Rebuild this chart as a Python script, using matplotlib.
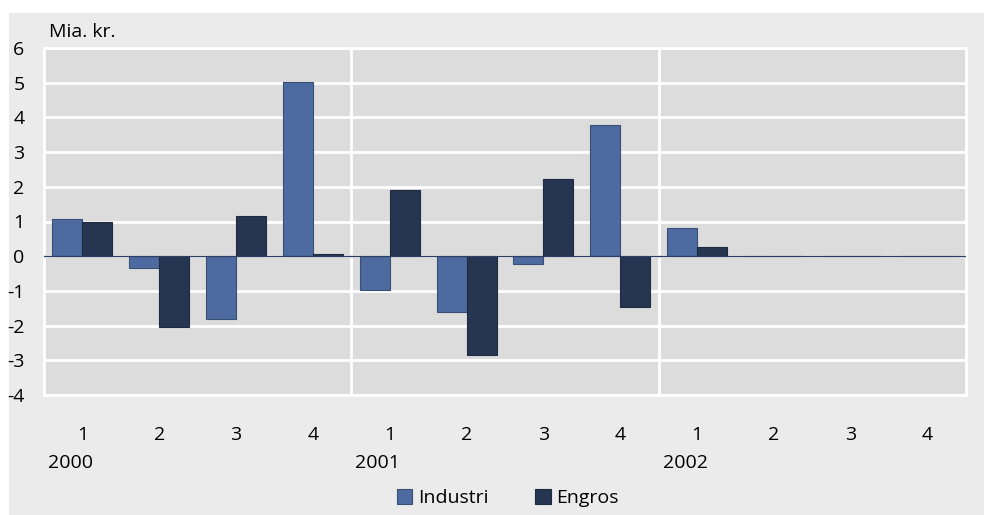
import matplotlib.pyplot as plt
import matplotlib.patches as mpatches
import numpy as np

plt.rcParams['font.family'] = ['Open Sans', 'DejaVu Sans']
plt.rcParams['axes.unicode_minus'] = False

quarters = ['1', '2', '3', '4'] * 3
years = ['2000', '2001', '2002']
industri = [1.07, -0.35, -1.82, 5.02, -0.98, -1.60, -0.22, 3.78, 0.80, 0, 0, 0]
engros = [0.98, -2.05, 1.17, 0.05, 1.90, -2.85, 2.22, -1.45, 0.27, 0, 0, 0]

c_ind = '#4d6ba0'
c_eng = '#263651'

fig = plt.figure(figsize=(9.84, 5.15), dpi=100)
fig.patches.append(mpatches.Rectangle((9 / 984, 0), 1, 1 - 13 / 515,
                                      transform=fig.transFigure,
                                      facecolor='#ebebeb', zorder=-10))
ax = fig.add_axes([44 / 984, 1 - 395 / 515, 922 / 984, 347 / 515])
ax.set_facecolor('#dcdcdc')

x = np.arange(len(quarters))
w = 0.39
ax.bar(x - w / 2, industri, w, color=c_ind, edgecolor='#3a4f75', linewidth=0.8,
       label='Industri', zorder=3)
ax.bar(x + w / 2, engros, w, color=c_eng, edgecolor='#1e2a40', linewidth=0.8,
       label='Engros', zorder=3)

ax.set_xlim(-0.5, len(quarters) - 0.5)
ax.set_ylim(-4, 6)
ax.set_yticks(range(-4, 7))
ax.grid(axis='y', color='white', linewidth=2, zorder=1)
for b in [3.5, 7.5]:
    ax.axvline(b, color='white', linewidth=2, zorder=1)
ax.axhline(0, color='#2d3f63', linewidth=1, zorder=4)

for s in ax.spines.values():
    s.set_color('white')
    s.set_linewidth(2)

ax.set_xticks(x)
ax.set_xticklabels(quarters)
ax.tick_params(length=0, labelsize=14, colors='black')
ax.tick_params(axis='x', pad=22)
ax.tick_params(axis='y', pad=14)

for i, yr in enumerate(years):
    ax.text(i * 4 - 0.45, -0.197, yr, transform=ax.get_xaxis_transform(),
            fontsize=14, ha='left', va='center')

ax.text(0.005, 1.047, 'Mia. kr.', transform=ax.transAxes, fontsize=14,
        ha='left', va='center')

fig.legend(loc='center', bbox_to_anchor=(0.516, 1 - 498 / 515), ncol=2,
           frameon=False, fontsize=14, handlelength=0.8, handleheight=0.8,
           handletextpad=0.3, columnspacing=2.4)

fig.savefig('out.png', dpi=100)
